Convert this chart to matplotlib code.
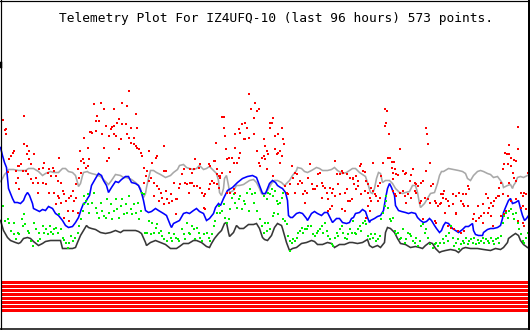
import matplotlib
matplotlib.use("Agg")
import matplotlib.pyplot as plt

# ---- data (x = sample position, y = plotted level, top-down) ----
title = "Telemetry Plot For IZ4UFQ-10 (last 96 hours) 573 points."

black_series = [(0,220),(3,230),(7,237),(10,240),(15,242),(18,243),(20,242),(23,238),(27,237),(30,238),(33,241),(38,245),(42,243),(45,241),(50,240),(55,240),(60,240),(62,248),(67,248),(72,248),(75,247),(77,242),(80,235),(83,230),(86,225),(88,227),(91,228),(95,229),(100,232),(105,233),(110,232),(115,230),(120,232),(123,230),(128,230),(135,230),(138,231),(141,233),(145,242),(146,245),(150,242),(155,240),(160,242),(165,244),(170,248),(173,248),(176,248),(179,246),(183,243),(188,243),(193,240),(196,240),(201,242),(206,246),(209,247),(211,243),(214,238),(218,233),(221,230),(224,223),(226,222),(228,232),(229,236),(233,232),(236,225),(239,228),(243,228),(248,224),(253,224),(256,223),(259,228),(262,237),(264,239),(267,240),(271,235),(274,227),(277,223),(281,225),(282,228),(284,235),(286,242),(289,250),(292,248),(296,247),(301,243),(306,242),(311,240),(314,241),(317,244),(322,244),(327,242),(331,243),(334,247),(339,244),(344,244),(349,242),(352,242),(357,243),(362,242),(367,239),(369,245),(372,247),(377,245),(380,247),(384,242),(385,232),(387,227),(390,228),(394,232),(397,238),(400,243),(405,244),(410,247),(415,246),(419,247),(422,248),(425,245),(429,242),(432,243),(435,248),(439,252),(441,251),(445,250),(450,249),(455,250),(458,252),(462,248),(465,247),(470,248),(477,248),(483,249),(490,250),(495,248),(500,249),(503,247),(507,242),(508,238),(512,235),(515,233),(518,235),(520,240),(523,244),(527,247)]

gray_series = [(0,181),(2,178),(4,174),(7,171),(8,169),(13,169),(18,170),(22,170),(25,170),(28,168),(33,168),(38,171),(42,175),(45,173),(50,171),(53,172),(58,172),(62,168),(65,168),(68,171),(72,172),(75,175),(77,182),(78,186),(80,183),(82,175),(83,172),(87,171),(88,172),(91,173),(95,174),(100,176),(105,181),(108,184),(111,180),(115,174),(120,175),(123,177),(126,177),(131,179),(135,182),(138,185),(140,188),(141,193),(143,197),(145,193),(146,187),(148,178),(150,170),(153,170),(156,172),(160,174),(165,177),(170,175),(173,172),(177,169),(179,165),(183,164),(186,167),(189,168),(193,169),(196,168),(199,165),(203,169),(206,168),(209,166),(213,170),(216,173),(218,180),(219,192),(221,195),(223,188),(224,178),(226,175),(228,185),(229,192),(233,190),(236,185),(239,185),(243,184),(246,182),(249,180),(253,179),(256,182),(259,188),(261,193),(263,194),(265,193),(267,190),(271,183),(274,180),(277,180),(281,182),(284,185),(286,183),(289,180),(292,175),(296,170),(297,167),(301,168),(304,171),(307,172),(311,170),(316,167),(319,168),(322,170),(327,170),(331,169),(334,167),(337,170),(342,173),(346,172),(349,170),(352,168),(355,168),(359,172),(362,174),(365,176),(367,182),(370,192),(372,193),(374,188),(376,178),(378,172),(380,173),(382,182),(385,180),(389,180),(392,183),(395,188),(399,192),(402,193),(405,192),(409,191),(412,185),(415,185),(417,192),(419,203),(420,207),(424,203),(427,198),(430,193),(434,192),(437,183),(439,175),(441,171),(443,171),(448,168),(453,169),(458,170),(462,171),(465,173),(467,178),(470,180),(473,175),(477,171),(480,170),(483,171),(487,173),(490,174),(493,177),(497,176),(500,180),(502,183),(503,187),(507,185),(510,184),(512,188),(513,185),(515,182),(517,177),(520,176),(523,177),(527,175)]

blue_series = [(0,147),(2,155),(4,162),(6,167),(7,177),(8,188),(10,193),(12,198),(14,202),(17,202),(20,203),(23,200),(25,195),(27,192),(29,195),(32,203),(33,208),(37,210),(39,211),(42,209),(45,210),(48,206),(52,208),(55,213),(58,215),(62,220),(65,225),(68,227),(72,226),(75,222),(78,217),(81,208),(83,203),(85,202),(87,198),(89,195),(91,185),(95,178),(98,173),(101,175),(103,180),(106,185),(108,192),(111,187),(115,181),(118,182),(121,179),(125,176),(128,176),(131,182),(135,183),(138,185),(141,192),(143,200),(145,210),(148,212),(151,211),(155,208),(158,210),(163,213),(166,215),(170,225),(171,227),(173,223),(175,222),(179,220),(183,213),(186,212),(189,213),(193,210),(196,208),(199,211),(203,213),(206,220),(209,218),(213,213),(215,207),(218,203),(220,205),(223,198),(227,190),(232,187),(237,182),(242,178),(247,176),(252,175),(256,177),(259,185),(262,193),(265,193),(267,188),(269,183),(272,180),(275,182),(277,185),(280,187),(282,188),(285,192),(287,200),(288,215),(290,217),(292,217),(296,213),(299,212),(302,213),(306,218),(307,220),(311,213),(314,211),(317,213),(321,215),(324,212),(327,212),(330,218),(332,222),(336,218),(339,218),(342,222),(346,223),(349,222),(351,218),(353,217),(355,213),(359,212),(362,209),(365,211),(367,217),(369,222),(370,220),(374,218),(377,216),(380,215),(383,210),(385,198),(387,188),(389,183),(391,187),(394,195),(395,205),(398,210),(401,211),(405,212),(408,213),(411,212),(415,213),(417,217),(420,220),(423,222),(426,221),(429,218),(431,220),(434,225),(436,228),(439,232),(441,230),(443,225),(445,222),(448,223),(452,228),(455,230),(458,232),(462,229),(465,226),(468,226),(472,223),(473,230),(475,234),(478,235),(482,235),(483,232),(487,229),(490,228),(493,228),(497,227),(500,225),(502,218),(503,212),(505,207),(508,200),(510,198),(512,203),(515,202),(518,200),(520,208),(522,215),(524,220),(526,218),(528,215)]

green_points = [(2,205),(4,220),(7,218),(8,222),(13,222),(10,230),(13,233),(17,232),(15,238),(18,233),(21,218),(23,213),(22,225),(24,223),(27,230),(28,232),(30,240),(32,245),(33,222),(35,228),(37,240),(38,232),(39,238),(42,225),(43,232),(45,228),(47,233),(49,225),(50,231),(52,233),(53,228),(55,227),(57,232),(58,213),(60,228),(62,237),(63,239),(65,242),(67,247),(68,242),(70,235),(72,240),(74,237),(77,232),(78,225),(80,218),(82,210),(83,203),(85,200),(87,193),(87,203),(88,212),(83,195),
    (91,202),(93,192),(95,207),(96,212),(98,217),(100,202),(101,210),(103,215),(105,217),(106,198),(108,212),(110,203),(111,218),(113,210),(115,198),(116,208),(118,217),(120,205),(121,198),(123,213),(125,203),(126,212),(128,195),(130,208),(131,213),(133,203),(135,212),(137,202),(138,218),(140,210),(141,192),(143,193),(144,232),(145,232),(146,232),(148,220),(150,233),(151,222),(153,232),(155,227),(156,223),(158,232),(160,230),(161,235),(163,238),(166,240),(168,232),(170,237),(171,240),(173,233),(175,237),(177,238),
    (178,240),(181,228),(183,233),(184,238),(186,222),(188,232),(189,233),(191,225),(193,228),(194,238),(196,227),(198,232),(199,237),(201,240),(203,233),(206,232),(208,237),(209,240),(211,233),(213,225),(214,220),(216,212),(218,205),(219,212),(221,210),(223,203),(224,217),(226,222),(228,218),(229,208),(231,197),(233,193),(234,202),(236,207),(238,198),(239,195),(241,208),(243,200),(244,203),(246,192),(248,210),(249,188),(251,193),(253,202),(254,192),(256,210),(259,218),(261,225),(263,195),(263,232),(264,222),
    (266,198),(267,192),(269,193),(271,188),(272,195),(274,190),(276,200),(277,203),(279,202),(281,197),(282,192),(267,222),(269,228),(266,230),(272,215),(273,212),(277,213),(282,218),(284,220),(286,223),(287,235),(289,240),(289,250),(291,242),(292,238),(294,240),(296,237),(297,232),(299,230),(301,227),(302,232),(304,228),(306,228),(307,225),(310,225),(312,233),(314,235),(316,232),(317,230),(319,228),(321,225),(322,232),(324,222),(326,230),(327,235),(329,238),(331,243),(332,245),(334,237),(336,232),(337,235),(339,228),(341,225),(342,232),(344,237),(346,238),(347,233),(349,228),(351,232),
    (352,220),(354,232),(355,233),(357,228),(359,225),(360,230),(362,222),(364,220),(365,223),(367,235),(369,238),(370,233),(372,237),(374,233),(375,240),(377,238),(379,235),(380,218),(382,212),(384,205),(385,195),(385,200),(387,207),(389,218),(390,220),(392,217),(394,230),(395,233),(397,232),(399,238),(400,237),(402,228),(404,242),(405,238),(407,232),(409,233),(410,235),(412,240),(414,242),(415,237),(417,245),(419,240),(420,225),(422,223),(424,232),(425,228),(427,237),(429,243),(432,247),(434,243),(435,242),(437,245),(439,242),
    (442,238),(443,242),(445,235),(447,240),(448,232),(450,225),(452,237),(453,245),(455,242),(457,238),(458,248),(460,243),(462,240),(463,242),(465,237),(467,243),(468,240),(470,238),(472,242),(473,237),(475,243),(477,239),(478,242),(480,240),(482,237),(483,242),(485,238),(487,240),(488,242),(490,237),(492,240),(493,243),(495,238),(497,237),(498,242),(500,235),(502,222),(503,215),(505,212),(507,217),(508,210),(510,208),(512,213),(513,218),(515,212),(517,222),(518,228),(520,233),(522,240),(523,242),(525,237),(527,232),(528,230)]

red_points = [(2,119),(4,129),(5,128),(5,133),(23,115),(23,143),(26,145),(13,150),(12,152),(10,155),(8,158),(7,171),(28,150),(26,153),(28,158),(33,153),(30,163),(43,162),(42,167),(38,168),(20,163),(18,165),(17,165),(15,170),(22,170),(25,170),(27,173),(30,178),(32,182),(35,177),(37,182),(42,182),(45,183),(47,172),(48,168),(50,175),(52,167),(53,170),(55,175),(57,180),(58,157),(60,182),(62,190),(17,177),(15,182),(18,188),(37,192),(48,192),(53,192),(55,203),(57,195),(60,202),(58,197),(63,193),(65,200),(67,210),(68,197),(70,195),(72,190),(73,200),(75,183),(78,177),(79,150),(80,160),(82,158),(83,162),(83,137),(85,167),(87,165),(87,147),(88,158),(89,131),(77,168),(80,172),(75,197),(72,210),(68,220),(77,212),(63,217),
    (128,90),(93,103),(100,102),(103,108),(121,102),(126,105),(113,108),(135,113),(96,115),(95,120),(98,120),(118,118),(121,123),(125,123),(116,122),(113,125),(111,126),(110,128),(105,125),(130,127),(136,127),(90,131),(91,132),(95,130),(101,133),(108,135),(113,133),(115,135),(120,138),(126,133),(128,137),(133,137),(130,142),(133,143),(135,145),(136,147),(138,148),(140,152),(141,155),(118,148),(103,147),(88,158),(106,160),(108,157),(148,150),(155,157),(156,155),(163,145),(151,162),(146,170),(143,167),(145,175),(150,177),(153,182),(156,185),(158,188),(163,170),(165,170),(173,182),(165,190),(160,192),(161,197),(166,198),(168,202),(171,200),(175,198),(176,198),(170,193),(153,195),(158,200),(163,203),(175,213),(143,182),(148,180),
    (248,93),(254,102),(250,108),(256,110),(253,117),(258,108),(244,122),(241,123),(238,128),(246,127),(221,116),(223,116),(223,127),(234,133),(239,132),(243,138),(248,137),(244,138),(253,133),(224,135),(215,142),(263,138),(264,145),(213,160),(214,160),(216,168),(218,175),(219,177),(226,158),(228,157),(231,157),(233,162),(236,162),(238,157),(239,152),(234,147),(225,148),(229,171),(208,163),(209,165),(199,163),(198,167),(194,158),(193,168),(191,172),(189,168),(183,168),(181,173),(184,182),(186,183),(189,182),(191,182),(193,185),(179,183),(178,187),(188,192),(196,185),(199,187),(201,192),(203,195),(204,193),(208,188),(209,183),(211,180),(213,182),(216,183),(218,187),(219,175),(221,172),(226,192),(229,192),(233,188),(234,192),(176,198),(203,207),(204,208),(216,173),(256,150),(258,162),(261,157),(263,155),(259,165),(264,158),
    (269,122),(271,122),(272,117),(269,127),(277,133),(274,135),(281,127),(282,138),(283,143),(264,145),(266,150),(267,153),(274,148),(276,153),(277,152),(279,150),(281,155),(279,162),(266,168),(272,175),(291,165),(292,177),(296,173),(294,172),(299,180),(297,183),(301,182),(289,183),(286,192),(284,185),(287,193),(294,192),(302,193),(304,190),(306,192),(307,177),(309,163),(311,183),(312,188),(314,188),(316,185),(317,173),(319,172),(321,182),(322,185),(324,187),(326,192),(321,197),(327,198),(329,187),(331,192),(332,188),(334,160),(336,173),(337,183),(339,173),(341,170),(342,172),(344,192),(346,188),(347,200),(349,200),(351,198),(352,178),(353,183),(346,173),(349,177),(331,205),(329,208),(341,208),(344,210),(334,195),(339,193),(304,202),(327,210),
    (384,108),(386,110),(385,122),(384,125),(388,133),(387,157),(389,157),(391,161),(393,161),(391,167),(394,168),(395,173),(397,174),(392,172),(399,148),(425,127),(426,133),(427,143),(429,162),(425,170),(422,180),(420,182),(412,168),(410,174),(409,180),(405,172),(402,170),(404,173),(414,182),(415,183),(417,185),(414,190),(415,192),(352,177),(355,175),(357,180),(359,165),(360,163),(364,171),(362,170),(365,180),(367,183),(357,185),(355,188),(360,193),(364,190),(367,192),(370,187),(372,190),(374,193),(375,195),(377,185),(379,182),(380,175),(382,162),(372,162),(369,197),(370,200),(377,200),(379,197),(367,205),(369,210),(365,217),(392,190),(394,193),(395,195),(399,192),(402,190),(404,195),(405,202),(407,193),(410,197),(419,202),(420,200),(424,197),(427,198),(429,202),(430,185),(432,183),(434,200),(435,202),(437,205),(439,203),(440,193),(434,220),(435,222),(392,178),(422,218),
    (517,126),(517,148),(515,160),(513,159),(508,144),(504,152),(506,153),(508,153),(510,157),(510,165),(507,163),(503,163),(502,168),(512,172),(513,177),(515,180),(508,182),(500,182),(498,187),(502,193),(507,195),(510,200),(515,198),(520,192),(522,195),(523,192),(525,193),(528,193),(520,207),(522,205),(525,208),(527,172),(443,190),(442,193),(440,202),(445,198),(447,200),(452,193),(455,195),(458,192),(462,193),(465,193),(467,185),(468,188),(442,197),(448,205),(452,203),(455,212),(460,200),(462,203),(463,205),(467,205),(477,205),(482,203),(485,193),(487,197),(490,202),(493,200),(488,207),(492,205),(495,197),(497,195),(498,195),(444,212),(455,213),(473,213),(472,218),(475,220),(478,217),(480,215),(482,222),(483,212),(487,212),(490,215),(492,225),(447,225),(450,227),(453,228),(457,230),(460,232),(463,230),(500,215),(503,213),(505,210),(517,220),(522,222),(523,225)]

bit_levels = [281.5, 285.5, 289.5, 293.5, 297.5, 301.5, 305.5, 309.5]
bit_span = (1, 528.5)

# ---- figure ----
W, H = 530, 330
fig = plt.figure(figsize=(W / 100, H / 100), dpi=100)
ax = fig.add_axes([0, 0, 1, 1])
ax.set_xlim(0, W)
ax.set_ylim(H, 0)
ax.axis("off")
px = 72 / 100  # points per pixel

def unzip(pairs):
    return [p[0] + 0.5 for p in pairs], [p[1] + 0.5 for p in pairs]

rect_marker = [(-1, -1.5), (1, -1.5), (1, 1.5), (-1, 1.5), (-1, -1.5)]

# bit rows
for lv in bit_levels:
    ax.plot(bit_span, [lv, lv], color="#ff0000", lw=3 * px, solid_capstyle="butt")

# lines
for data, col in [(gray_series, "#a8a8a8"), (black_series, "#383838"), (blue_series, "#0000ff")]:
    xs, ys = unzip(data)
    ax.plot(xs, ys, color=col, lw=1.6 * px, solid_joinstyle="miter")

# dots
for data, col in [(green_points, "#00ee00"), (red_points, "#ff0000")]:
    xs, ys = unzip(data)
    ax.plot(xs, ys, ls="none", marker=rect_marker, markersize=2.8 * px,
            markerfacecolor=col, markeredgewidth=0)

# border
ax.plot([0.5, 0.5], [0, H], color="black", lw=1.2 * px)
ax.plot([0, W], [0.5, 0.5], color="black", lw=1.2 * px)
ax.plot([529, 529], [0, H], color="black", lw=2 * px)
ax.plot([0, W], [329.3, 329.3], color="black", lw=1.5 * px)
ax.plot([0.5, 0.5], [63, 67], color="black", lw=2.5 * px)

ax.text(59, 22, title, family="DejaVu Sans Mono", fontsize=9.25,
        color="black", ha="left", va="baseline")

fig.savefig("out.png", dpi=100, facecolor="white")
